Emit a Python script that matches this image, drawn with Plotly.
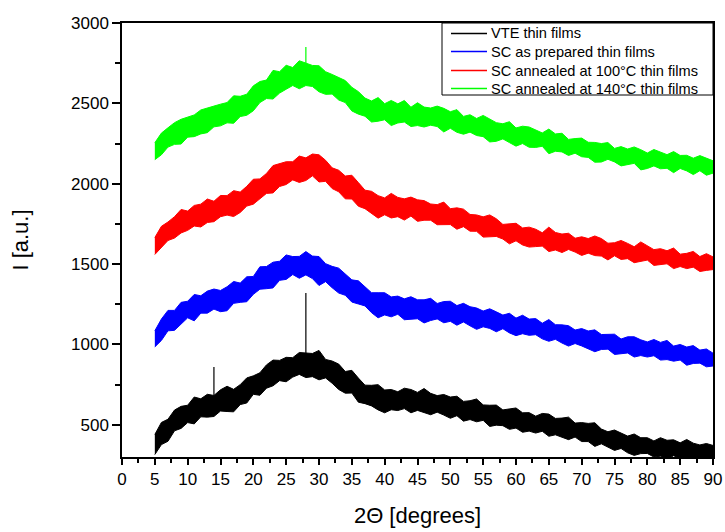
import plotly.graph_objects as go

# 2-theta grid (degrees)
two_theta = list(range(5, 91))

# Upper / lower edges of each noisy XRD band
vte_upper = [440, 515, 535, 592, 615, 622, 673, 662, 690, 683, 718, 740, 721, 750, 792, 805, 824, 873, 903, 901,
             920, 918, 950, 945, 944, 963, 907, 897, 878, 832, 839, 791, 747, 746, 750, 717, 720, 706, 728, 720,
             702, 726, 696, 682, 689, 673, 678, 646, 650, 661, 624, 622, 623, 593, 599, 605, 575, 576, 554, 571,
             567, 540, 542, 548, 511, 514, 509, 513, 474, 457, 468, 450, 430, 443, 420, 420, 400, 420, 404, 407,
             388, 409, 386, 375, 384, 372]
vte_lower = [315, 377, 398, 463, 478, 514, 506, 550, 548, 552, 586, 583, 581, 626, 636, 690, 684, 728, 743, 775,
             768, 797, 814, 794, 800, 780, 792, 759, 720, 697, 698, 641, 632, 618, 593, 575, 594, 589, 601, 575,
             590, 576, 563, 579, 561, 541, 557, 523, 533, 519, 528, 490, 498, 495, 472, 480, 454, 461, 449, 460,
             429, 438, 425, 408, 424, 396, 396, 366, 382, 359, 341, 353, 326, 310, 321, 322, 300, 305, 286, 308,
             290, 294, 278, 293, 279, 292]

sc_upper = [1085, 1158, 1212, 1212, 1262, 1269, 1311, 1303, 1332, 1345, 1336, 1359, 1392, 1382, 1421, 1423, 1483,
            1485, 1512, 1518, 1557, 1547, 1548, 1578, 1550, 1547, 1503, 1486, 1475, 1438, 1402, 1396, 1356, 1322,
            1322, 1322, 1296, 1301, 1284, 1297, 1278, 1278, 1287, 1255, 1267, 1269, 1242, 1256, 1235, 1227, 1208,
            1222, 1203, 1183, 1194, 1164, 1182, 1158, 1161, 1132, 1155, 1123, 1122, 1117, 1090, 1099, 1084, 1091,
            1062, 1061, 1064, 1034, 1048, 1048, 1029, 1016, 1031, 1013, 1025, 990, 1000, 984, 993, 965, 972, 946]
sc_lower = [985, 1025, 1085, 1088, 1130, 1166, 1147, 1195, 1195, 1220, 1204, 1210, 1256, 1262, 1266, 1312, 1344,
            1347, 1352, 1399, 1405, 1435, 1412, 1433, 1410, 1367, 1391, 1353, 1320, 1306, 1264, 1252, 1240, 1198,
            1166, 1184, 1172, 1188, 1154, 1158, 1160, 1134, 1149, 1159, 1135, 1144, 1120, 1140, 1116, 1094, 1110,
            1100, 1079, 1098, 1072, 1055, 1067, 1057, 1061, 1035, 1020, 1032, 1009, 990, 1006, 991, 974, 955, 969,
            971, 938, 944, 947, 922, 931, 922, 930, 903, 906, 896, 903, 871, 882, 884, 861, 866]

a100_upper = [1665, 1735, 1762, 1795, 1840, 1830, 1865, 1873, 1905, 1891, 1927, 1926, 1957, 1948, 1984, 2028, 2030,
              2064, 2113, 2124, 2137, 2137, 2172, 2161, 2185, 2180, 2146, 2099, 2084, 2048, 2053, 2007, 1960, 1953,
              1926, 1912, 1940, 1915, 1906, 1917, 1900, 1895, 1874, 1870, 1886, 1845, 1850, 1842, 1809, 1806, 1794,
              1806, 1782, 1747, 1751, 1754, 1725, 1730, 1717, 1695, 1730, 1697, 1687, 1692, 1661, 1670, 1659, 1675,
              1659, 1630, 1633, 1647, 1629, 1608, 1638, 1616, 1590, 1596, 1583, 1600, 1562, 1567, 1579, 1547, 1565,
              1545]
a100_lower = [1560, 1600, 1647, 1662, 1694, 1710, 1737, 1731, 1759, 1764, 1795, 1805, 1796, 1821, 1861, 1873, 1907,
              1940, 1943, 1983, 1995, 2024, 2008, 2020, 2049, 2011, 2015, 1970, 1950, 1906, 1905, 1860, 1845, 1815,
              1786, 1807, 1787, 1795, 1774, 1799, 1766, 1773, 1773, 1745, 1744, 1746, 1717, 1733, 1705, 1704, 1668,
              1669, 1672, 1656, 1626, 1645, 1619, 1606, 1609, 1612, 1578, 1588, 1572, 1591, 1575, 1554, 1568, 1553,
              1550, 1526, 1552, 1529, 1534, 1509, 1515, 1525, 1492, 1497, 1502, 1472, 1485, 1472, 1481, 1454, 1461,
              1466]

a140_upper = [2255, 2315, 2348, 2380, 2401, 2417, 2428, 2459, 2469, 2483, 2495, 2505, 2547, 2544, 2557, 2609, 2636,
              2645, 2705, 2697, 2737, 2723, 2765, 2752, 2736, 2734, 2697, 2680, 2663, 2642, 2600, 2573, 2533, 2515,
              2536, 2498, 2518, 2497, 2518, 2476, 2504, 2477, 2471, 2483, 2469, 2448, 2461, 2419, 2429, 2406, 2425,
              2400, 2380, 2373, 2386, 2347, 2358, 2353, 2336, 2316, 2340, 2310, 2314, 2276, 2281, 2284, 2258, 2257,
              2250, 2256, 2220, 2231, 2216, 2229, 2212, 2191, 2213, 2197, 2181, 2200, 2176, 2177, 2159, 2175, 2160,
              2143]
a140_lower = [2150, 2180, 2228, 2245, 2247, 2290, 2293, 2310, 2318, 2354, 2360, 2379, 2376, 2418, 2426, 2454, 2505,
              2530, 2527, 2564, 2588, 2611, 2591, 2611, 2605, 2572, 2556, 2558, 2521, 2505, 2453, 2433, 2420, 2384,
              2389, 2398, 2362, 2378, 2384, 2356, 2362, 2353, 2364, 2356, 2322, 2345, 2320, 2308, 2321, 2300, 2293,
              2260, 2264, 2279, 2256, 2234, 2250, 2227, 2226, 2233, 2187, 2202, 2198, 2176, 2190, 2168, 2164, 2134,
              2135, 2152, 2136, 2111, 2118, 2127, 2086, 2095, 2111, 2093, 2096, 2069, 2095, 2080, 2057, 2081, 2053,
              2066]

# Sharp reflections standing out of the bands
vte_peak_pos = [14.0, 28.0]
vte_peak_base = [640, 880]
vte_peak_top = [860, 1320]
a140_peak_pos = [28.0]
a140_peak_base = [2700]
a140_peak_top = [2850]

names = ["VTE thin films", "SC as prepared thin films",
         "SC annealed at 100°C thin films", "SC annealed at 140°C thin films"]
colors = ["#000000", "#0000FF", "#FF0000", "#00FF00"]
bands = [(vte_upper, vte_lower), (sc_upper, sc_lower), (a100_upper, a100_lower), (a140_upper, a140_lower)]

fig = go.Figure()

for (up, lo), c, n in zip(bands, colors, names):
    fig.add_trace(go.Scatter(
        x=two_theta + two_theta[::-1], y=up + lo[::-1], name=n,
        mode="lines", fill="toself", fillcolor=c,
        line=dict(color=c, width=1), showlegend=False, hoverinfo="skip"))


def spikes(pos, base, top):
    xs, ys = [], []
    for p, b, t in zip(pos, base, top):
        xs += [p, p, None]
        ys += [b, t, None]
    return xs, ys


for (pos, base, top), c in [((vte_peak_pos, vte_peak_base, vte_peak_top), colors[0]),
                            ((a140_peak_pos, a140_peak_base, a140_peak_top), colors[3])]:
    sx, sy = spikes(pos, base, top)
    fig.add_trace(go.Scatter(x=sx, y=sy, mode="lines", line=dict(color=c, width=1.2),
                             showlegend=False, hoverinfo="skip"))

font_family = "Liberation Sans, Arial, sans-serif"

# plot-area geometry in pixels (layout only)
W, H = 725, 532
PL, PR, PT, PB = 122, 713, 23, 457


def fx(p):
    return (p - PL) / (PR - PL)


def fy(p):
    return (PB - p) / (PB - PT)


# hand-built legend box (matches the original's compact legend)
shapes = [dict(type="rect", xref="paper", yref="paper",
               x0=fx(442), x1=fx(713), y0=fy(95), y1=fy(23),
               line=dict(color="#000000", width=1), fillcolor="white", layer="above")]
annotations = []
row_y = [33.5, 51.5, 70.5, 88.5]
for n, c, ry in zip(names, colors, row_y):
    shapes.append(dict(type="line", xref="paper", yref="paper",
                       x0=fx(451), x1=fx(487), y0=fy(ry), y1=fy(ry),
                       line=dict(color=c, width=1.3), layer="above"))
    annotations.append(dict(xref="paper", yref="paper", x=fx(489), y=fy(ry),
                            xanchor="left", yanchor="middle", showarrow=False,
                            text=n, font=dict(size=14.6, color="#000000", family=font_family)))

fig.update_layout(
    width=W, height=H,
    margin=dict(l=PL, r=W - PR, t=PT, b=H - PB),
    paper_bgcolor="white", plot_bgcolor="white",
    font=dict(family=font_family, color="#000000"),
    showlegend=False,
    shapes=shapes, annotations=annotations,
)

fig.update_xaxes(
    range=[0, 90], dtick=5, tick0=0, automargin=False,
    ticks="outside", ticklen=6, tickwidth=1.5, tickcolor="#000000",
    minor=dict(dtick=2.5, ticks="outside", ticklen=4, tickwidth=1.5, tickcolor="#000000"),
    showline=True, linewidth=1.5, linecolor="#000000", mirror=True,
    showgrid=False, zeroline=False,
    tickfont=dict(size=17, color="#000000"),
    title=dict(text="2Θ [degrees]", font=dict(size=22, color="#000000"), standoff=19),
)
fig.update_yaxes(
    range=[300, 3000], dtick=500, tick0=0, automargin=False,
    ticks="outside", ticklen=8, tickwidth=1.5, tickcolor="#000000",
    minor=dict(dtick=250, tick0=0, ticks="outside", ticklen=5, tickwidth=1.5, tickcolor="#000000"),
    showline=True, linewidth=1.5, linecolor="#000000", mirror=True,
    showgrid=False, zeroline=False,
    tickfont=dict(size=17, color="#000000"),
    title=dict(text="I [a.u.]", font=dict(size=22, color="#000000"), standoff=36),
)

fig.write_html("out.html")
